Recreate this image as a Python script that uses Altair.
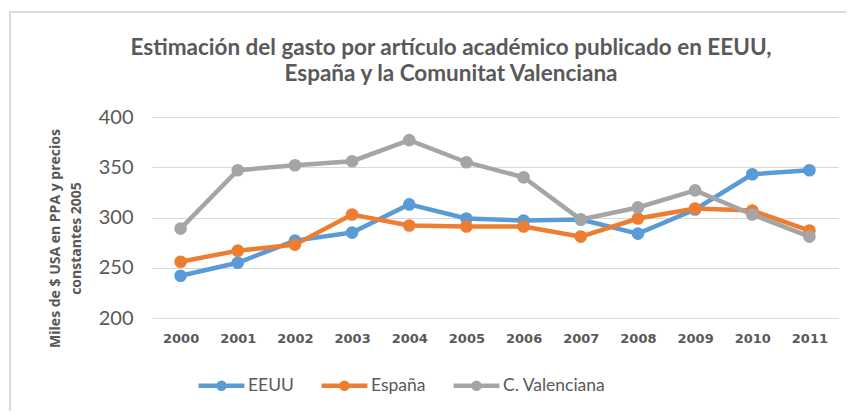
import altair as alt
import pandas as pd

years = ["2000", "2001", "2002", "2003", "2004", "2005", "2006", "2007", "2008", "2009", "2010", "2011"]
eeuu = [242, 255, 277, 285, 313, 299, 297, 298, 284, 308, 343, 347]
espana = [256, 267, 273, 303, 292, 291, 291, 281, 299, 309, 307, 287]
cval = [289, 347, 352, 356, 377, 355, 340, 298, 310, 327, 303, 281]
series = ["EEUU", "España", "C. Valenciana"]
colors = ["#5B9BD5", "#ED7D31", "#A5A5A5"]

rows = []
for name, vals in zip(series, [eeuu, espana, cval]):
    for i, (y, v) in enumerate(zip(years, vals)):
        rows.append({"year": y, "value": v, "serie": name, "ord": series.index(name)})
df = pd.DataFrame(rows)

GRAY = "#595959"
FONT = "Lato"

x = alt.X("year:N", sort=years,
          scale=alt.Scale(paddingInner=0, paddingOuter=0),
          axis=alt.Axis(title=None, labelAngle=0, labelFont="DejaVu Sans", labelFontWeight="bold",
                        labelFontSize=13, labelColor=GRAY, ticks=False, domain=False,
                        labelPadding=14, grid=False))
y = alt.Y("value:Q", scale=alt.Scale(domain=[200, 400], nice=False, zero=False),
          axis=alt.Axis(values=[200, 250, 300, 350, 400], title=["Miles de $ USA en PPA y precios", "constantes 2005"],
                        titleFont="Open Sans", titleFontSize=14, titleFontWeight="bold", titleColor=GRAY,
                        titleAngle=-90, titleAlign="center", titleBaseline="top",
                        titleX=-104, titleY=121, titleLineHeight=21,
                        labelFont=FONT, labelFontSize=20, labelColor=GRAY, labelPadding=19,
                        ticks=False, domain=False, grid=True, gridColor="#D9D9D9", gridWidth=1.2))
color = alt.Color("serie:N", sort=series, scale=alt.Scale(domain=series, range=colors),
                  legend=alt.Legend(title=None, orient="none", direction="horizontal",
                                    legendX=44, legendY=243,
                                    symbolType="M-1,0L1,0M0.13,0A0.13,0.13 0 1 1 -0.13,0A0.13,0.13 0 1 1 0.13,0M0.06,0A0.06,0.06 0 1 1 -0.06,0A0.06,0.06 0 1 1 0.06,0",
                                    symbolSize=2100, symbolStrokeWidth=4.5,
                                    labelFont=FONT, labelFontSize=17.5, labelColor=GRAY,
                                    labelOffset=1, columnPadding=18))

base = alt.Chart(df).encode(x=x, y=y, color=color, order=alt.Order("ord:Q"))
lines = base.mark_line(strokeWidth=4.5)
points = base.mark_circle(size=160, opacity=1)

border = alt.Chart(pd.DataFrame({"a": [0]})).mark_rect(
    fill=None, stroke="#D9D9D9", strokeWidth=2
).encode(x=alt.value(-142), x2=alt.value(720), y=alt.value(-105), y2=alt.value(320))

chart = alt.layer(border, lines, points).properties(
    width=686, height=201,
    padding={"left": 144, "top": 109, "right": 8, "bottom": 93},
    autosize=alt.AutoSizeParams(type="none"),
    title=alt.Title(["Estimación del gasto por artículo académico publicado en EEUU,",
                     "España y la Comunitat Valenciana"],
                    font=FONT, fontSize=22.5, fontWeight="bold", color=GRAY,
                    anchor="middle", frame="group", dx=-44, offset=0, dy=74, lineHeight=26),
).configure_view(stroke=None)

chart.save("out.html", embed_options={"renderer": "svg", "actions": False})
